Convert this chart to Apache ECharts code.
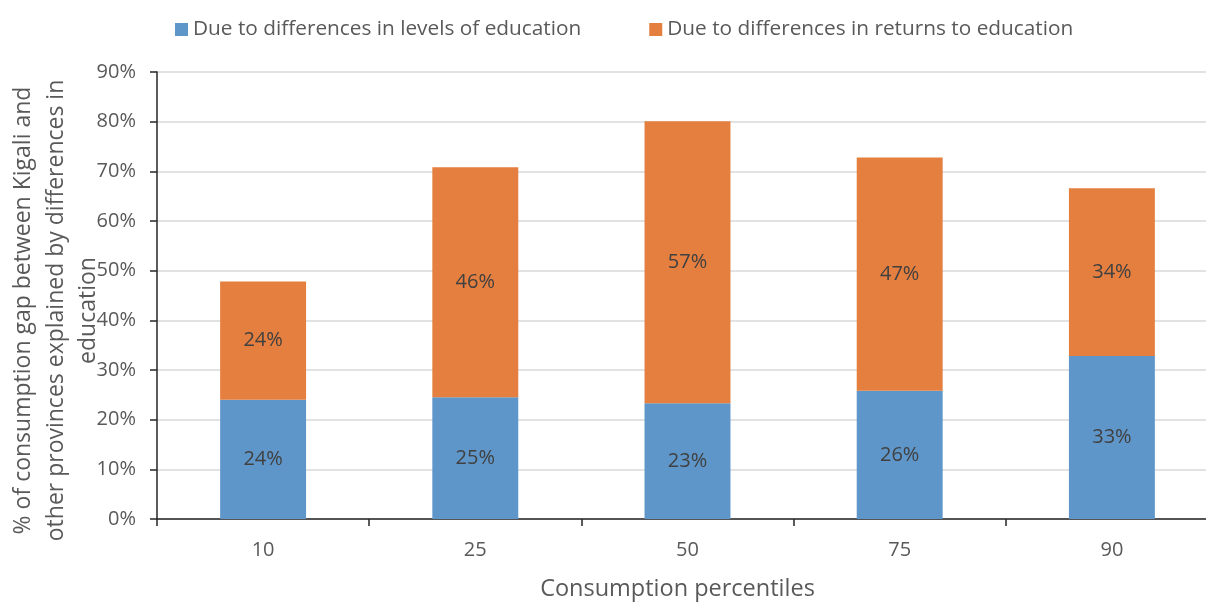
<!doctype html>
<html>
<head>
    <meta charset="utf-8">
    <title>Consumption gap</title>
    <script src="https://cdn.jsdelivr.net/npm/echarts@6/dist/echarts.min.js"></script>
    <style>
        html, body { margin: 0; padding: 0; background: #fff; }
        #main { width: 1206px; height: 602px; }
    </style>
</head>
<body>
    <div id="main"></div>
    <script type="text/javascript">
        // percentiles on the x axis
        var categories = ['10', '25', '50', '75', '90'];
        // share of the gap (%)
        var levelsData = [24.0, 24.5, 23.3, 25.8, 32.8];
        var returnsData = [23.8, 46.3, 56.8, 47.0, 33.8];
        var seriesNames = ['Due to differences in levels of education', 'Due to differences in returns to education'];

        var fontName = 'Open Sans';
        var myChart = echarts.init(document.getElementById('main'));

        function pctLabel(p) {
            return Math.round(p.value) + '%';
        }

        var option = {
            animation: false,
            textStyle: { fontFamily: fontName },
            legend: {
                top: 14,
                left: 170,
                itemWidth: 13,
                itemHeight: 13,
                itemGap: 68,
                icon: 'rect',
                textStyle: { fontSize: 20.8, color: '#595959', fontFamily: fontName },
                data: seriesNames
            },
            grid: {
                left: 157,
                right: -12,
                top: 72,
                bottom: 83,
                outerBoundsMode: 'none'
            },
            xAxis: {
                type: 'category',
                data: categories,
                name: 'Consumption percentiles',
                nameLocation: 'middle',
                nameGap: 58,
                nameMoveOverlap: false,
                nameTextStyle: { fontSize: 23.5, color: '#595959', padding: [0, 20, 0, 0] },
                axisLine: { lineStyle: { color: '#262626', width: 1.5 } },
                axisTick: { show: true, length: 7, lineStyle: { color: '#262626', width: 1.5 } },
                axisLabel: { fontSize: 20, color: '#595959', margin: 21 }
            },
            yAxis: {
                type: 'value',
                min: 0,
                max: 90,
                interval: 10,
                name: '% of consumption gap between Kigali and\nother provinces explained by differences in\neducation',
                nameLocation: 'middle',
                nameRotate: 90,
                nameGap: 52,
                nameMoveOverlap: false,
                nameTextStyle: { fontSize: 23, color: '#595959', lineHeight: 32.5, padding: [0, 30, 0, 0] },
                axisLine: { show: true, lineStyle: { color: '#262626', width: 1.5 } },
                axisTick: { show: true, length: 7, lineStyle: { color: '#262626', width: 1.5 } },
                axisLabel: { formatter: '{value}%', fontSize: 20, color: '#595959', margin: 21 },
                splitLine: { lineStyle: { color: '#d9d9d9', width: 1.5 } }
            },
            series: [
                {
                    name: seriesNames[0],
                    type: 'bar',
                    stack: 'total',
                    barWidth: '40.5%',
                    itemStyle: { color: '#5f96c9' },
                    label: { show: true, position: 'inside', formatter: pctLabel, fontSize: 20, color: '#404040' },
                    data: levelsData
                },
                {
                    name: seriesNames[1],
                    type: 'bar',
                    stack: 'total',
                    itemStyle: { color: '#e47f3f' },
                    label: { show: true, position: 'inside', formatter: pctLabel, fontSize: 20, color: '#404040' },
                    data: returnsData
                }
            ]
        };

        myChart.setOption(option);
    </script>
</body>
</html>
